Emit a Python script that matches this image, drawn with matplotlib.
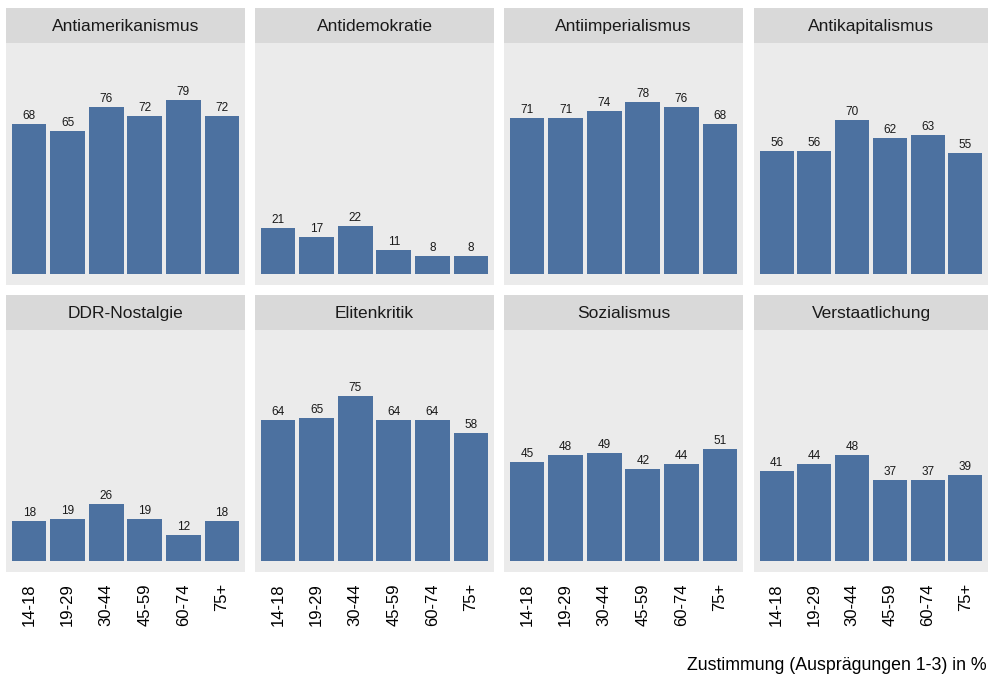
import matplotlib
matplotlib.use("Agg")
import matplotlib.pyplot as plt

plt.rcParams['font.family'] = ['Liberation Sans', 'DejaVu Sans']

# age groups and share of agreement per topic (in %)
age_groups = ["14-18", "19-29", "30-44", "45-59", "60-74", "75+"]
topics = ["Antiamerikanismus", "Antidemokratie", "Antiimperialismus", "Antikapitalismus",
          "DDR-Nostalgie", "Elitenkritik", "Sozialismus", "Verstaatlichung"]
antiamerikanismus = [68, 65, 76, 72, 79, 72]
antidemokratie = [21, 17, 22, 11, 8, 8]
antiimperialismus = [71, 71, 74, 78, 76, 68]
antikapitalismus = [56, 56, 70, 62, 63, 55]
ddr_nostalgie = [18, 19, 26, 19, 12, 18]
elitenkritik = [64, 65, 75, 64, 64, 58]
sozialismus = [45, 48, 49, 42, 44, 51]
verstaatlichung = [41, 44, 48, 37, 37, 39]
values = [antiamerikanismus, antidemokratie, antiimperialismus, antikapitalismus,
          ddr_nostalgie, elitenkritik, sozialismus, verstaatlichung]
caption = "Zustimmung (Ausprägungen 1-3) in %"

W, H = 989, 678
bar_color = "#4C71A0"
panel_bg = "#EBEBEB"
strip_bg = "#D9D9D9"

fig = plt.figure(figsize=(W / 100, H / 100), dpi=100)

# panel edges in pixels
col_edges = [(6, 245), (255, 494), (504, 743), (754, 988)]
row_edges = [(8, 43, 285), (295, 330, 572)]  # strip top, panel top, panel bottom


def px_axes(x0, x1, y0, y1):
    return fig.add_axes([x0 / W, 1 - y1 / H, (x1 - x0) / W, (y1 - y0) / H])


for i, (topic, vals) in enumerate(zip(topics, values)):
    r, c = divmod(i, 4)
    x0, x1 = col_edges[c]
    s_top, p_top, p_bot = row_edges[r]

    # strip with facet title
    sax = px_axes(x0, x1, s_top, p_top)
    sax.set_facecolor(strip_bg)
    sax.set_xticks([])
    sax.set_yticks([])
    for sp in sax.spines.values():
        sp.set_visible(False)
    sax.text(0.5, 0.47, topic, ha="center", va="center", fontsize=12.5,
             color="#1A1A1A", transform=sax.transAxes)

    # panel with bars
    ax = px_axes(x0, x1, p_top, p_bot)
    ax.set_facecolor(panel_bg)
    pos = list(range(1, len(age_groups) + 1))
    ax.bar(pos, vals, width=0.9, color=bar_color)
    for p, v in zip(pos, vals):
        ax.annotate(str(v), (p, v), xytext=(0, 1.5), textcoords="offset points",
                    ha="center", va="bottom", fontsize=8.5, color="#1A1A1A")
    ax.set_xlim(0.4, 6.6)
    ax.set_ylim(-5, 105)
    ax.set_yticks([])
    for sp in ax.spines.values():
        sp.set_visible(False)
    if r == 1:
        ax.set_xticks(pos)
        ax.set_xticklabels(age_groups, rotation=90, fontsize=12, color="#000000",
                           va="top", ha="center")
        ax.tick_params(axis="x", length=0, pad=8)
    else:
        ax.set_xticks([])

fig.text(987 / W, 1 - 665 / H, caption, ha="right", va="center", fontsize=12.8,
         color="#000000")

fig.savefig("out.png", dpi=100)
